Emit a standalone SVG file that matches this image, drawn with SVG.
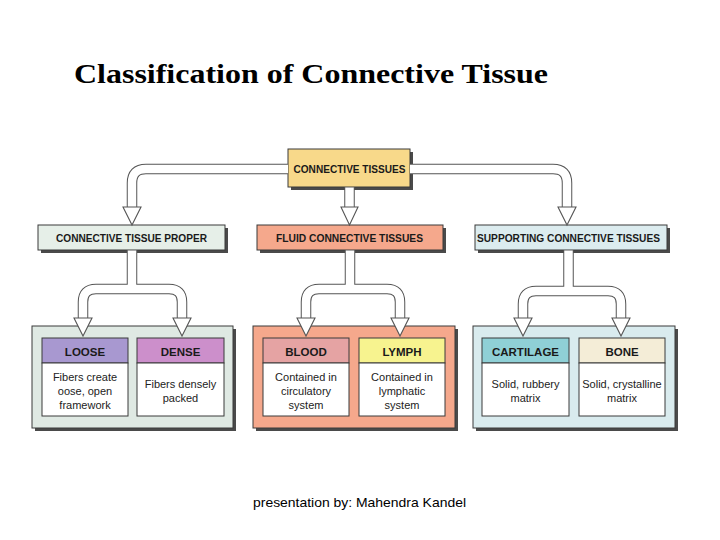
<svg xmlns="http://www.w3.org/2000/svg" width="720" height="540" viewBox="0 0 720 540">
<defs>
<style>
.bx{stroke:#3a3a3a;stroke-width:1}
.sh{fill:#4a4a4a}
.hd{font-family:"Liberation Sans",Arial,sans-serif;font-weight:bold;font-size:11.5px;fill:#1a1a1a;text-anchor:middle}
.bd{font-family:"Liberation Sans",Arial,sans-serif;font-size:11px;fill:#222;text-anchor:middle}
.outer{fill:none;stroke:#555;stroke-width:10.5;stroke-linejoin:round}
.inner{fill:none;stroke:#fff;stroke-width:8.5;stroke-linejoin:round}
.head{fill:#fff;stroke:#555;stroke-width:1.1;stroke-linejoin:miter}
</style>
</defs>
<rect width="720" height="540" fill="#fff"/>
<text x="74" y="83" font-family="'Liberation Serif','Times New Roman',serif" font-weight="bold" font-size="27" textLength="474" lengthAdjust="spacingAndGlyphs" fill="#000">Classification of Connective Tissue</text>

<g id="connective-tissues">
<rect class="sh" x="291" y="152" width="122" height="38"/>
<rect class="bx" x="288" y="149" width="122" height="38" fill="#f8d98a"/>
<text class="hd" x="349.5" y="173" textLength="112" lengthAdjust="spacingAndGlyphs">CONNECTIVE TISSUES</text>
</g>

<g id="connective-tissue-proper">
<rect class="sh" x="41" y="228" width="187" height="25"/>
<rect class="bx" x="38" y="225" width="187" height="25" fill="#e6efe8"/>
<text class="hd" x="131.5" y="242" textLength="151" lengthAdjust="spacingAndGlyphs">CONNECTIVE TISSUE PROPER</text>
</g>

<g id="fluid-connective-tissues">
<rect class="sh" x="260" y="228" width="186" height="25"/>
<rect class="bx" x="257" y="225" width="186" height="25" fill="#f5a88c"/>
<text class="hd" x="349.5" y="242" textLength="147" lengthAdjust="spacingAndGlyphs">FLUID CONNECTIVE TISSUES</text>
</g>

<g id="supporting-connective-tissues">
<rect class="sh" x="478" y="228" width="192" height="25"/>
<rect class="bx" x="475" y="225" width="192" height="25" fill="#dcecef"/>
<text class="hd" x="568.5" y="242" textLength="183" lengthAdjust="spacingAndGlyphs">SUPPORTING CONNECTIVE TISSUES</text>
</g>

<g id="proper-group">
<rect class="sh" x="35" y="329" width="201" height="102"/>
<rect class="bx" x="32" y="326" width="201" height="102" fill="#dfe9e3"/>
</g>
<g id="fluid-group">
<rect class="sh" x="256" y="329" width="202" height="102"/>
<rect class="bx" x="253" y="326" width="202" height="102" fill="#f5a88c"/>
</g>
<g id="supporting-group">
<rect class="sh" x="476" y="329" width="202" height="102"/>
<rect class="bx" x="473" y="326" width="202" height="102" fill="#d9ebee"/>
</g>

<g id="loose">
<rect class="bx" x="42" y="338" width="86" height="25" fill="#a898d0"/>
<rect class="bx" x="42" y="363" width="86" height="53" fill="#fff"/>
<text class="hd" x="85" y="356">LOOSE</text>
<text class="bd" x="85" y="381">Fibers create</text>
<text class="bd" x="85" y="395">oose, open</text>
<text class="bd" x="85" y="409">framework</text>
</g>
<g id="dense">
<rect class="bx" x="137" y="338" width="87" height="25" fill="#cc8fcb"/>
<rect class="bx" x="137" y="363" width="87" height="53" fill="#fff"/>
<text class="hd" x="180.5" y="356">DENSE</text>
<text class="bd" x="180.5" y="388">Fibers densely</text>
<text class="bd" x="180.5" y="402">packed</text>
</g>
<g id="blood">
<rect class="bx" x="263" y="338" width="86" height="25" fill="#e5a3a3"/>
<rect class="bx" x="263" y="363" width="86" height="53" fill="#fff"/>
<text class="hd" x="306" y="356">BLOOD</text>
<text class="bd" x="306" y="381">Contained in</text>
<text class="bd" x="306" y="395">circulatory</text>
<text class="bd" x="306" y="409">system</text>
</g>
<g id="lymph">
<rect class="bx" x="359" y="338" width="86" height="25" fill="#f7f38f"/>
<rect class="bx" x="359" y="363" width="86" height="53" fill="#fff"/>
<text class="hd" x="402" y="356">LYMPH</text>
<text class="bd" x="402" y="381">Contained in</text>
<text class="bd" x="402" y="395">lymphatic</text>
<text class="bd" x="402" y="409">system</text>
</g>
<g id="cartilage">
<rect class="bx" x="482" y="338" width="87" height="25" fill="#8fd0d6"/>
<rect class="bx" x="482" y="363" width="87" height="53" fill="#fff"/>
<text class="hd" x="525.5" y="356">CARTILAGE</text>
<text class="bd" x="525.5" y="388">Solid, rubbery</text>
<text class="bd" x="525.5" y="402">matrix</text>
</g>
<g id="bone">
<rect class="bx" x="579" y="338" width="86" height="25" fill="#f4edd7"/>
<rect class="bx" x="579" y="363" width="86" height="53" fill="#fff"/>
<text class="hd" x="622" y="356">BONE</text>
<text class="bd" x="622" y="388">Solid, crystalline</text>
<text class="bd" x="622" y="402">matrix</text>
</g>

<g id="connectors">
<path class="outer" d="M288,169 H146 Q132,169 132,183 V208"/>
<path class="outer" d="M410,169 H553 Q567,169 567,183 V208"/>
<path class="outer" d="M349.5,187 V208"/>
<path class="outer" d="M132,250 V289"/>
<path class="outer" d="M83,319 V302 Q83,289 96,289 H169 Q182,289 182,302 V319"/>
<path class="outer" d="M350,250 V289"/>
<path class="outer" d="M306,319 V302 Q306,289 319,289 H387 Q400,289 400,302 V319"/>
<path class="outer" d="M568.5,250 V291"/>
<path class="outer" d="M523,319 V304 Q523,291 536,291 H608 Q621,291 621,304 V319"/>
<path class="inner" d="M288,169 H146 Q132,169 132,183 V208"/>
<path class="inner" d="M410,169 H553 Q567,169 567,183 V208"/>
<path class="inner" d="M349.5,187.5 V208"/>
<path class="inner" d="M132,250.5 V289"/>
<path class="inner" d="M83,319 V302 Q83,289 96,289 H169 Q182,289 182,302 V319"/>
<path class="inner" d="M350,250.5 V289"/>
<path class="inner" d="M306,319 V302 Q306,289 319,289 H387 Q400,289 400,302 V319"/>
<path class="inner" d="M568.5,250.5 V291"/>
<path class="inner" d="M523,319 V304 Q523,291 536,291 H608 Q621,291 621,304 V319"/>
<polygon class="head" points="123,207 141,207 132,225"/>
<polygon class="head" points="558,207 576,207 567,225"/>
<polygon class="head" points="341,207 358,207 349.5,225"/>
<polygon class="head" points="74,318 92,318 83,336"/>
<polygon class="head" points="173,318 191,318 182,336"/>
<polygon class="head" points="297,318 315,318 306,336"/>
<polygon class="head" points="391,318 409,318 400,336"/>
<polygon class="head" points="514,318 532,318 523,336"/>
<polygon class="head" points="612,318 630,318 621,336"/>
</g>

<text x="253" y="507" font-family="'Liberation Sans',Arial,sans-serif" font-size="13" textLength="213" lengthAdjust="spacingAndGlyphs" fill="#000">presentation by: Mahendra Kandel</text>
</svg>
